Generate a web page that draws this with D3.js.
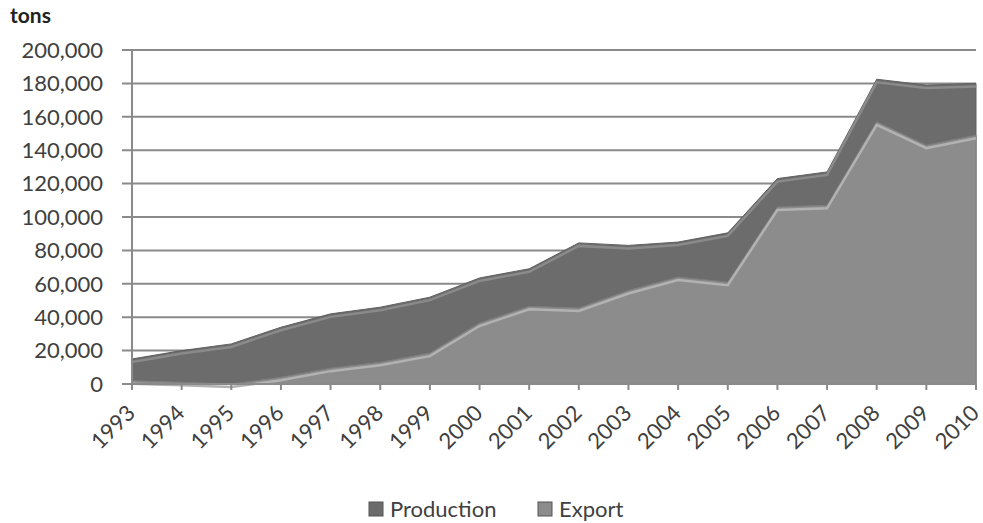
<!DOCTYPE html>
<html>
<head>
<meta charset="utf-8">
<script src="https://cdn.jsdelivr.net/npm/d3@7"></script>
<style>
  body { margin: 0; background: #fff; }
  text { font-family: Lato, "Open Sans", sans-serif; fill: #404040; }
</style>
</head>
<body>
<svg id="chart" width="983" height="523"></svg>
<script>
    // Data (tons)
    const years = [1993, 1994, 1995, 1996, 1997, 1998, 1999, 2000, 2001,
                   2002, 2003, 2004, 2005, 2006, 2007, 2008, 2009, 2010];
    const production = [15000, 20000, 24000, 34000, 42000, 46000, 52000, 63500, 69000,
                        84500, 83000, 85000, 90500, 123000, 127000, 182500, 179000, 180000];
    const exportVals = [2000, 1000, 0, 4000, 9500, 13000, 18500, 36500, 46500,
                        45500, 56000, 64000, 61000, 106000, 107000, 157000, 143000, 149000];
    const yTicks = [0, 20000, 40000, 60000, 80000, 100000, 120000, 140000, 160000, 180000, 200000];

    const width = 983, height = 523;
    const margin = { left: 132, right: 7, top: 50, bottom: 139 };

    const svg = d3.select("#chart");

    const x = d3.scalePoint()
        .domain(years)
        .range([margin.left, width - margin.right]);

    const y = d3.scaleLinear()
        .domain([0, 200000])
        .range([height - margin.bottom, margin.top]);

    const fmt = d3.format(",");

    // Gridlines
    svg.append("g")
      .selectAll("line")
      .data(yTicks)
      .join("line")
        .attr("x1", margin.left - 10)
        .attr("x2", width - margin.right)
        .attr("y1", d => y(d))
        .attr("y2", d => y(d))
        .attr("stroke", "#8a8a8a")
        .attr("stroke-width", 2);

    // Y tick labels
    svg.append("g")
      .selectAll("text")
      .data(yTicks)
      .join("text")
        .attr("x", margin.left - 29)
        .attr("y", d => y(d))
        .attr("dy", "0.35em")
        .attr("text-anchor", "end")
        .attr("font-size", 22)
        .text(d => fmt(d));

    svg.append("text")
        .attr("x", 10)
        .attr("y", 23)
        .attr("font-size", 21)
        .attr("font-weight", "bold")
        .style("fill", "#222")
        .text("tons");

    const rows = years.map((yr, i) => ({ yr, p: production[i], e: exportVals[i] }));

    function drawSeries(key, fill, hi) {
        const area = d3.area()
            .x(d => x(d.yr))
            .y0(y(0))
            .y1(d => y(d[key]));
        const line = d3.line()
            .x(d => x(d.yr))
            .y(d => y(d[key]));
        svg.append("path")
            .datum(rows)
            .attr("d", area)
            .attr("fill", fill)
            .attr("stroke", d3.color(fill).darker(0.3))
            .attr("stroke-width", 1);
        // bevel highlight just under the top edge
        svg.append("path")
            .datum(rows)
            .attr("d", line)
            .attr("fill", "none")
            .attr("stroke", hi)
            .attr("stroke-width", 2.5)
            .attr("transform", "translate(0,3)");
    }

    drawSeries("p", "#6c6c6c", "#8a8a8a");
    drawSeries("e", "#8c8c8c", "#b2b2b2");

    // Axes lines
    svg.append("line")
        .attr("x1", margin.left).attr("x2", margin.left)
        .attr("y1", y(200000)).attr("y2", y(0))
        .attr("stroke", "#8a8a8a").attr("stroke-width", 2);
    svg.append("line")
        .attr("x1", margin.left - 10).attr("x2", width - margin.right)
        .attr("y1", y(0)).attr("y2", y(0))
        .attr("stroke", "#8a8a8a").attr("stroke-width", 2);

    // X ticks and labels
    const xg = svg.append("g");
    xg.selectAll("line")
      .data(years)
      .join("line")
        .attr("x1", d => x(d)).attr("x2", d => x(d))
        .attr("y1", y(0)).attr("y2", y(0) + 6)
        .attr("stroke", "#8a8a8a").attr("stroke-width", 2);
    xg.selectAll("text")
      .data(years)
      .join("text")
        .attr("transform", d => `translate(${x(d) - 1},${y(0) + 25}) rotate(-45)`)
        .attr("text-anchor", "end")
        .attr("dy", "0.35em")
        .attr("font-size", 22)
        .text(d => d);

    // Legend
    const legend = [
        { name: "Production", color: "#6c6c6c", x: 369 },
        { name: "Export", color: "#8c8c8c", x: 538 }
    ];
    const lg = svg.append("g")
      .selectAll("g")
      .data(legend)
      .join("g")
        .attr("transform", d => `translate(${d.x},509)`);
    lg.append("rect")
        .attr("x", 0).attr("y", -7)
        .attr("width", 14).attr("height", 14)
        .attr("fill", d => d.color)
        .attr("stroke", "#555");
    lg.append("text")
        .attr("x", 21)
        .attr("dy", "0.35em")
        .attr("font-size", 22)
        .text(d => d.name);
</script>
</body>
</html>
